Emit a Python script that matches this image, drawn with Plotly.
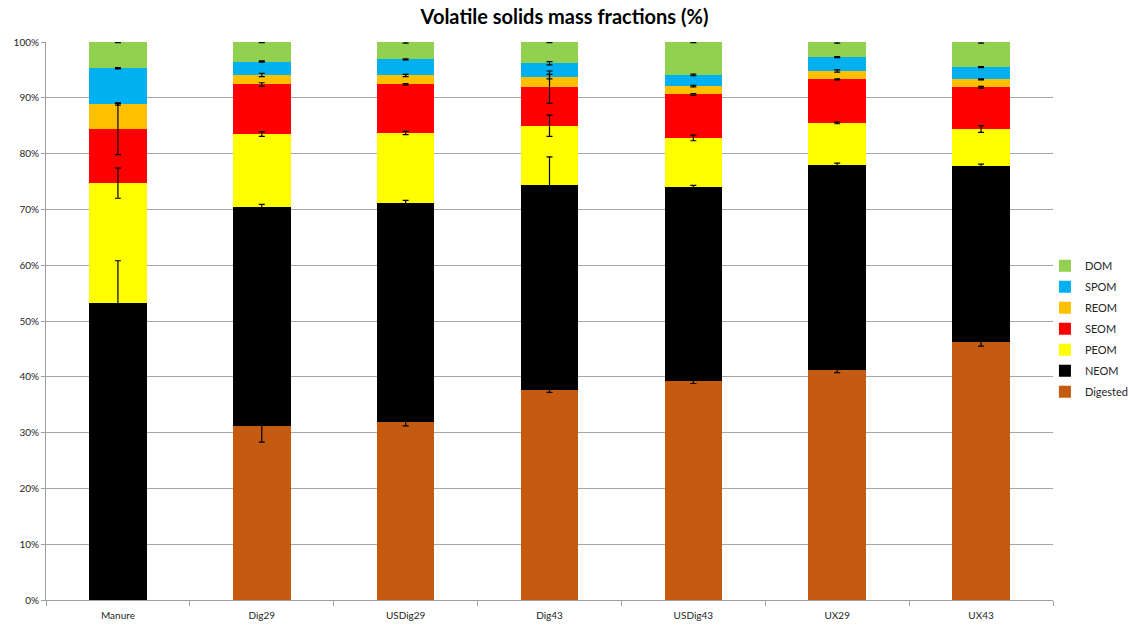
import numpy as np
import plotly.graph_objects as go

# Samples and fraction names (bottom to top of each stack)
samples = ["Manure", "Dig29", "USDig29", "Dig43", "USDig43", "UX29", "UX43"]
fractions = ["Digested", "NEOM", "PEOM", "SEOM", "REOM", "SPOM", "DOM"]

# Mean mass fractions (%) of volatile solids per sample
digested = [0.0, 31.2, 31.9, 37.7, 39.3, 41.2, 46.3]
neom = [53.3, 39.2, 39.2, 36.7, 34.7, 36.7, 31.4]
peom = [21.4, 13.1, 12.6, 10.6, 8.8, 7.6, 6.7]
seom = [9.7, 8.9, 8.7, 6.9, 7.8, 7.8, 7.5]
reom = [4.5, 1.7, 1.6, 1.9, 1.5, 1.5, 1.4]
spom = [6.4, 2.4, 2.9, 2.4, 2.0, 2.5, 2.2]
dom = [4.7, 3.5, 3.1, 3.8, 5.9, 2.7, 4.5]

# Standard deviations (%)
digested_sd = [0.0, 2.9, 0.7, 0.5, 0.5, 0.45, 0.8]
neom_sd = [7.5, 0.5, 0.5, 5.0, 0.3, 0.4, 0.4]
peom_sd = [2.7, 0.4, 0.3, 1.9, 0.5, 0.15, 0.6]
seom_sd = [4.6, 0.3, 0.15, 2.9, 0.15, 0.1, 0.15]
reom_sd = [0.2, 0.3, 0.2, 0.4, 0.15, 0.2, 0.1]
spom_sd = [0.1, 0.1, 0.1, 0.3, 0.15, 0.1, 0.1]
dom_sd = [0.1, 0.1, 0.2, 0.1, 0.1, 0.2, 0.2]

colors = ["#C55A11", "#000000", "#FFFF00", "#FF0000", "#FFC000", "#00B0F0", "#92D050"]

values = [digested, neom, peom, seom, reom, spom, dom]
sds = [digested_sd, neom_sd, peom_sd, seom_sd, reom_sd, spom_sd, dom_sd]

fig = go.Figure()

# Legend lists the top of the stack first
for k, (name, vals, col) in enumerate(zip(fractions, values, colors)):
    fig.add_trace(go.Bar(
        x=samples, y=vals, name=name, legendgroup=name,
        legendrank=1000 - k,
        marker=dict(color=col, line=dict(width=0)),
    ))

# Error bars drawn on top of the stack, at the cumulative top of each fraction
cum = np.cumsum(np.array(values), axis=0)
for vals, tops, sd in zip(values, cum, sds):
    keep = [i for i, v in enumerate(vals) if v > 0]
    fig.add_trace(go.Scatter(
        x=[samples[i] for i in keep],
        y=[tops[i] for i in keep],
        mode="markers",
        marker=dict(size=0.1, color="rgba(0,0,0,0)"),
        error_y=dict(type="data", array=[sd[i] for i in keep],
                     color="#000000", thickness=1.2, width=3),
        showlegend=False, hoverinfo="skip",
    ))

font = "Lato, 'Open Sans', sans-serif"
fig.update_layout(
    width=1129, height=631,
    barmode="stack", bargap=0.6,
    plot_bgcolor="white", paper_bgcolor="white",
    margin=dict(l=46, r=76, t=42, b=31, autoexpand=False),
    font=dict(family=font, size=10, color="#262626"),
    title=dict(text="<b>Volatile solids mass fractions (%)</b>",
               x=0.5, xanchor="center", y=0.973, yanchor="middle",
               font=dict(family=font, size=20, color="#000000")),
    legend=dict(traceorder="grouped", tracegroupgap=2,
                x=0.992, xanchor="left",
                y=0.486, yanchor="middle", font=dict(size=11, color="#262626"),
                bgcolor="rgba(0,0,0,0)", itemwidth=30),
    xaxis=dict(showline=True, linecolor="#9E9E9E", linewidth=1,
               ticks="outside", tickson="boundaries", ticklen=5,
               tickcolor="#9E9E9E", showgrid=False, ticklabelstandoff=6,
               tickfont=dict(size=10, color="#262626")),
    yaxis=dict(range=[0, 100], dtick=10, ticksuffix="%",
               showline=True, linecolor="#9E9E9E", linewidth=1,
               ticks="outside", ticklen=4, tickcolor="#9E9E9E",
               gridcolor="#A6A6A6", gridwidth=1, zeroline=False,
               tickfont=dict(size=10, color="#262626")),
)

fig.write_html("out.html")
